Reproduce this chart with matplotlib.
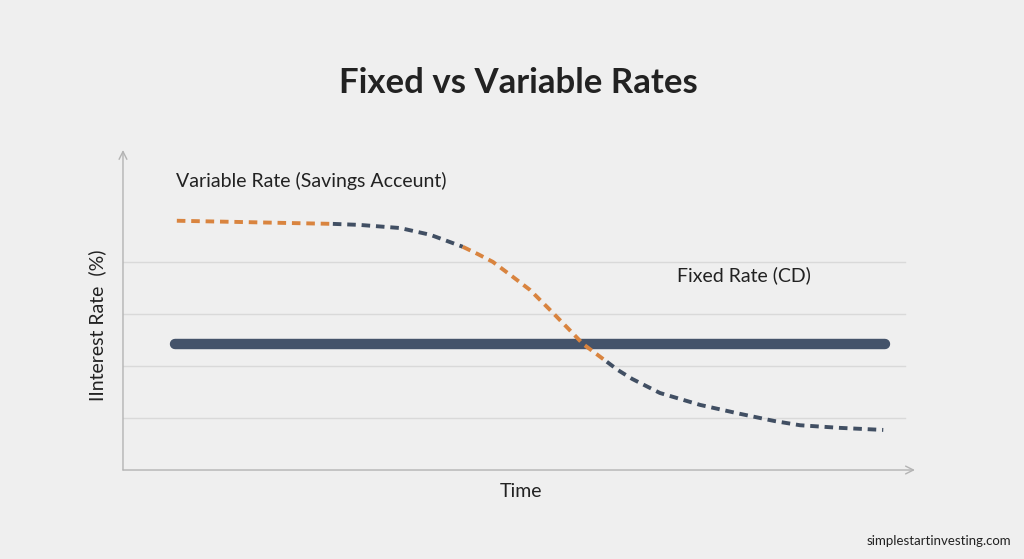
import matplotlib.pyplot as plt

# Data (time in arbitrary units, rate in grid steps)
variable_x = [0.68, 1.35, 1.98, 2.65, 2.99, 3.50, 3.88, 4.13, 4.29, 4.48,
              4.67, 4.89, 5.14, 5.39, 5.64, 5.81, 5.96, 6.11, 6.25, 6.43,
              6.78, 7.29, 7.79, 8.23, 8.55, 9.05, 9.60]
variable_y = [4.79, 4.77, 4.75, 4.73, 4.71, 4.65, 4.52, 4.38, 4.29, 4.15,
              4.00, 3.75, 3.46, 3.08, 2.69, 2.42, 2.25, 2.08, 1.92, 1.75,
              1.48, 1.25, 1.08, 0.94, 0.86, 0.81, 0.77]
# pieces of the variable curve and their colour (index ranges, shared ends)
segments = [(0, 3, "orange"), (3, 8, "navy"), (8, 17, "orange"), (17, 26, "navy")]

fixed_x = [0.66, 9.62]
fixed_y = [2.42, 2.42]

grid_levels = [1, 2, 3, 4]

BG = "#efefef"
NAVY = "#414f63"
ORANGE = "#d9843f"
GRID = "#d9d9d9"
AXIS = "#b3b3b3"
TEXT = "#222222"
colors = {"navy": NAVY, "orange": ORANGE}

plt.rcParams["font.family"] = ["Lato", "DejaVu Sans"]

fig = plt.figure(figsize=(10.24, 5.59), dpi=100, facecolor=BG)
ax = fig.add_axes([0.1201, 0.1592, 0.7734, 0.5725])
ax.set_facecolor(BG)
ax.set_xlim(0, 10)
ax.set_ylim(0, 6.15)

for lvl in grid_levels:
    ax.plot([0, 9.87], [lvl, lvl], color=GRID, lw=1.0, zorder=1)

# fixed rate
ax.plot(fixed_x, fixed_y, color="#44536a", lw=7.5, solid_capstyle="round", zorder=3)

# variable rate, dashed, two colours
for a, b, c in segments:
    ax.plot(variable_x[a:b + 1], variable_y[a:b + 1], color=colors[c], lw=2.8,
            dashes=(2.2, 1.5), zorder=4)

for s in ax.spines.values():
    s.set_visible(False)
ax.set_xticks([])
ax.set_yticks([])

# axes with arrow heads
ax.annotate("", xy=(0, 1.0), xytext=(0, 0), xycoords="axes fraction",
            arrowprops=dict(arrowstyle="->", color=AXIS, lw=1.0,
                            mutation_scale=14, shrinkA=0, shrinkB=0))
ax.annotate("", xy=(1.0, 0), xytext=(0, 0), xycoords="axes fraction",
            arrowprops=dict(arrowstyle="->", color=AXIS, lw=1.0,
                            mutation_scale=14, shrinkA=0, shrinkB=0))

fig.text(0.506, 0.851, "Fixed vs Variable Rates", ha="center", va="center",
         fontsize=25, fontweight="bold", color=TEXT)
fig.text(0.172, 0.676, "Variable Rate (Savings Acceunt)", ha="left", va="center",
         fontsize=14, color=TEXT)
fig.text(0.661, 0.508, "Fixed Rate (CD)", ha="left", va="center",
         fontsize=14, color=TEXT)
fig.text(0.509, 0.121, "Time", ha="center", va="center", fontsize=14, color=TEXT)
fig.text(0.095, 0.418, "IInterest Rate  (%)", ha="center", va="center",
         rotation=90, fontsize=14, color=TEXT)
fig.text(0.987, 0.033, "simplestartinvesting.com", ha="right", va="center",
         fontsize=9.5, color=TEXT)

fig.savefig("out.png", dpi=100, facecolor=BG)
